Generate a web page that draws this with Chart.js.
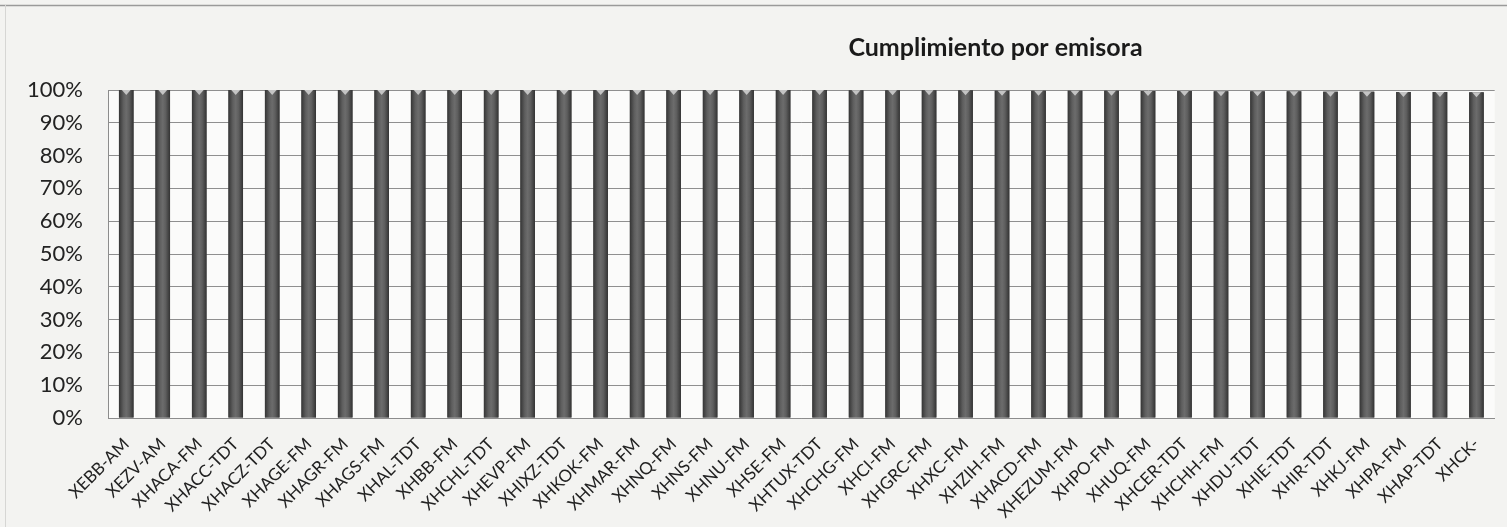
<!DOCTYPE html>
<html>
<head>
<meta charset="utf-8">
<script src="https://cdn.jsdelivr.net/npm/chart.js@4/dist/chart.umd.min.js"></script>
<style>
  html, body { margin: 0; padding: 0; background: #f3f3f1; }
  #wrap { width: 1507px; height: 527px; position: relative; }
  canvas { display: block; }
</style>
</head>
<body>
<div id="wrap"><canvas id="c" width="1507" height="527"></canvas></div>
<script>
const chartTitle = 'Cumplimiento por emisora';
const categories = ['XEBB-AM','XEZV-AM','XHACA-FM','XHACC-TDT','XHACZ-TDT','XHAGE-FM','XHAGR-FM','XHAGS-FM','XHAL-TDT','XHBB-FM','XHCHL-TDT','XHEVP-FM','XHIXZ-TDT','XHKOK-FM','XHMAR-FM','XHNQ-FM','XHNS-FM','XHNU-FM','XHSE-FM','XHTUX-TDT','XHCHG-FM','XHCI-FM','XHGRC-FM','XHXC-FM','XHZIH-FM','XHACD-FM','XHEZUM-FM','XHPO-FM','XHUQ-FM','XHCER-TDT','XHCHH-FM','XHDU-TDT','XHIE-TDT','XHIR-TDT','XHKJ-FM','XHPA-FM','XHAP-TDT','XHCK-'];
const cumplimiento = [100,100,100,100,100,100,100,100,100,100,100,100,100,100,100,100,100,100,100,100,99.9,99.9,99.9,99.9,99.8,99.8,99.8,99.8,99.7,99.7,99.6,99.6,99.6,99.5,99.5,99.4,99.4,99.3];
const yTicks = [0,10,20,30,40,50,60,70,80,90,100];

const FONT = 'Lato, "Open Sans", sans-serif';

const bgPlugin = {
  id: 'bg',
  beforeDraw(chart) {
    const {ctx, chartArea: a} = chart;
    ctx.save();
    ctx.fillStyle = '#f3f3f1';
    ctx.fillRect(0, 0, chart.width, chart.height);
    ctx.fillStyle = '#fbfbfa';
    ctx.fillRect(a.left, a.top, a.right - a.left, a.bottom - a.top);
    ctx.strokeStyle = '#9a9a9a';
    ctx.lineWidth = 1.5;
    ctx.beginPath();
    ctx.moveTo(0, 5.5); ctx.lineTo(chart.width, 5.5);
    ctx.stroke();
    ctx.strokeStyle = '#d6d6d4';
    ctx.lineWidth = 1;
    ctx.beginPath();
    ctx.moveTo(5.5, 5); ctx.lineTo(5.5, chart.height);
    ctx.stroke();
    ctx.restore();
  }
};

const titlePlugin = {
  id: 'ttl',
  afterDraw(chart) {
    const {ctx, chartArea: a} = chart;
    ctx.save();
    ctx.font = 'bold 25px ' + FONT;
    ctx.fillStyle = '#1a1a1a';
    ctx.textAlign = 'center';
    ctx.textBaseline = 'middle';
    ctx.fillText(chartTitle, a.left + (a.right - a.left) * 0.64, 48);
    ctx.restore();
  }
};

const barShade = {
  id: 'barShade',
  afterDatasetsDraw(chart) {
    const {ctx} = chart;
    const meta = chart.getDatasetMeta(0);
    ctx.save();
    meta.data.forEach(bar => {
      const w = bar.width, x0 = bar.x - w / 2, top = bar.y, base = bar.base;
      const g = ctx.createLinearGradient(x0, 0, x0 + w, 0);
      g.addColorStop(0, '#353535');
      g.addColorStop(0.3, '#5e5e5e');
      g.addColorStop(0.5, '#6c6c6c');
      g.addColorStop(0.7, '#5e5e5e');
      g.addColorStop(1, '#333333');
      ctx.fillStyle = g;
      ctx.fillRect(x0, top, w, base - top);
      ctx.fillStyle = '#c4c4c4';
      ctx.beginPath();
      ctx.moveTo(bar.x - w * 0.3, top);
      ctx.lineTo(bar.x + w * 0.3, top);
      ctx.lineTo(bar.x, top + 5);
      ctx.closePath();
      ctx.fill();
    });
    ctx.restore();
  }
};

new Chart(document.getElementById('c'), {
  type: 'bar',
  data: {
    labels: categories,
    datasets: [{
      label: 'Cumplimiento',
      data: cumplimiento,
      backgroundColor: '#555555',
      borderWidth: 0,
      categoryPercentage: 1.0,
      barPercentage: 0.4
    }]
  },
  options: {
    responsive: false,
    animation: false,
    devicePixelRatio: 1,
    layout: { padding: { top: 90, right: 9, left: 0, bottom: 0 } },
    plugins: {
      legend: { display: false },
      title: { display: false },
      tooltip: { enabled: false }
    },
    scales: {
      x: {
        grid: { display: false, drawTicks: false },
        border: { display: true, color: '#8c8c8c', width: 1 },
        ticks: {
          autoSkip: false,
          minRotation: 45,
          maxRotation: 45,
          padding: 16,
          color: '#222',
          font: { family: FONT, size: 17 }
        },
        afterFit(scale) { scale.height = 109; }
      },
      y: {
        min: 0,
        max: 100,
        afterBuildTicks(scale) { scale.ticks = yTicks.map(v => ({ value: v })); },
        grid: { color: '#8f8f8f', lineWidth: 1, drawTicks: false },
        border: { display: true, color: '#8c8c8c', width: 1 },
        ticks: {
          padding: 25,
          color: '#222',
          font: { family: FONT, size: 22 },
          callback: v => v + '%'
        },
        afterFit(scale) { scale.width = 108; }
      }
    }
  },
  plugins: [bgPlugin, titlePlugin, barShade]
});
</script>
</body>
</html>
